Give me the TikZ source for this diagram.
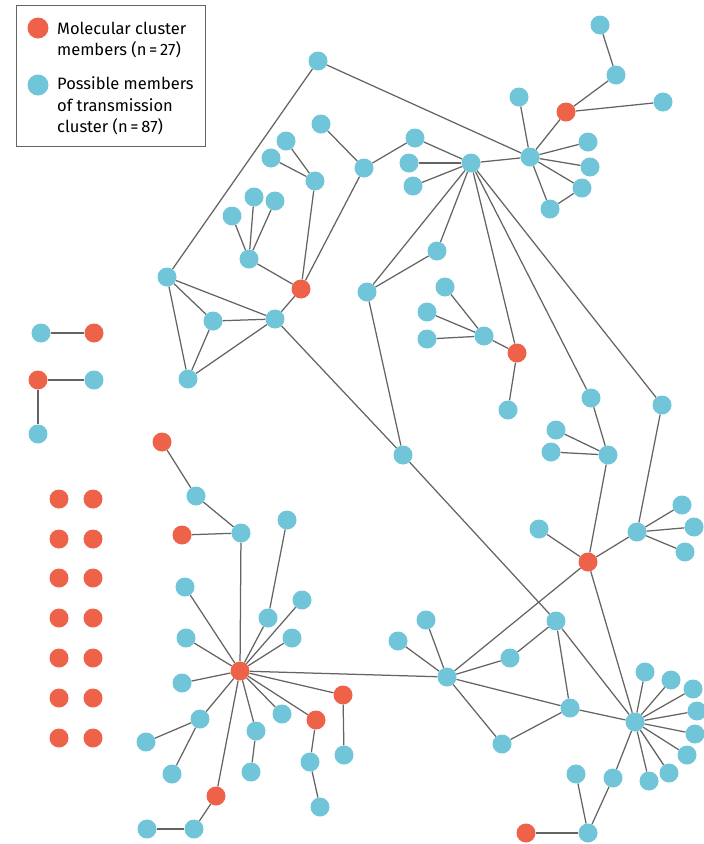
\documentclass[tikz,border=0pt]{standalone}
\usepackage{fontspec}
\setmainfont{Fira Sans}
\usetikzlibrary{backgrounds}

\definecolor{molred}{RGB}{239,98,74}
\definecolor{posblue}{RGB}{112,197,216}
\definecolor{linkgray}{RGB}{100,100,100}

\begin{document}
\begin{tikzpicture}[x=1pt,y=-1pt,
    molnode/.style={circle,fill=molred,minimum size=19pt,inner sep=0pt},
    posnode/.style={circle,fill=posblue,minimum size=19pt,inner sep=0pt},
    link/.style={draw=linkgray,line width=1.25pt},
    keytext/.style={anchor=west,align=left,inner sep=0pt,font=\fontsize{16.5}{21.5}\selectfont}]
        \useasboundingbox (0,0) rectangle (704,844);

        % key
        \draw[linkgray,line width=0.9pt] (16,5) rectangle (205,146);
        \node[molnode,minimum size=21pt] (keymol) at (38,28) {};
        \node[keytext] (keymoltext) at (57,40) {Molecular cluster\\members (n\,=\,27)};
        \node[posnode,minimum size=21pt] (keypos) at (38,85) {};
        \node[keytext] (keypostext) at (57,106) {Possible members\\of transmission\\cluster (n\,=\,87)};

        % upper part
        \node[posnode] (t1) at (318,61) {};
        \node[posnode] (h1) at (471,163) {};
        \node[posnode] (h2) at (530,157) {};
        \node[molnode] (r1) at (566,112) {};
        \node[posnode] (t2) at (616,75) {};
        \node[posnode] (t3) at (600,25) {};
        \node[posnode] (t4) at (663,102) {};
        \node[posnode] (t5) at (519,97) {};
        \node[posnode] (t6) at (588,142) {};
        \node[posnode] (t7) at (590,167) {};
        \node[posnode] (t8) at (582,188) {};
        \node[posnode] (t9) at (550,209) {};
        \node[posnode] (t10) at (415,138) {};
        \node[posnode] (t11) at (409,163) {};
        \node[posnode] (t12) at (413,186) {};
        \node[posnode] (t13) at (364,168) {};
        \node[posnode] (t14) at (321,124) {};
        \node[molnode] (r2) at (301,289) {};
        \node[posnode] (t15) at (315,181) {};
        \node[posnode] (t16) at (286,141) {};
        \node[posnode] (t17) at (271,158) {};
        \node[posnode] (t18) at (249,259) {};
        \node[posnode] (t19) at (232,216) {};
        \node[posnode] (t20) at (254,197) {};
        \node[posnode] (t21) at (275,201) {};
        \node[posnode] (l1) at (167,277) {};
        \node[posnode] (l2) at (213,321) {};
        \node[posnode] (l3) at (275,319) {};
        \node[posnode] (l4) at (188,379) {};

        % middle
        \node[posnode] (m1) at (367,292) {};
        \node[posnode] (m2) at (437,251) {};
        \node[posnode] (m3) at (403,455) {};
        \node[molnode] (r3) at (517,353) {};
        \node[posnode] (m4) at (484,336) {};
        \node[posnode] (m5) at (445,287) {};
        \node[posnode] (m6) at (427,312) {};
        \node[posnode] (m7) at (427,339) {};
        \node[posnode] (m8) at (508,410) {};
        \node[posnode] (m9) at (591,398) {};
        \node[posnode] (m10) at (608,455) {};
        \node[posnode] (m11) at (556,430) {};
        \node[posnode] (m12) at (551,452) {};
        \node[molnode] (r4) at (588,562) {};
        \node[posnode] (m13) at (539,529) {};
        \node[posnode] (m14) at (662,405) {};
        \node[posnode] (m15) at (637,532) {};
        \node[posnode] (m16) at (682,505) {};
        \node[posnode] (m17) at (694,527) {};
        \node[posnode] (m18) at (685,552) {};

        % lower right
        \node[posnode] (h3) at (447,677) {};
        \node[posnode] (b1) at (398,641) {};
        \node[posnode] (b2) at (426,620) {};
        \node[posnode] (b3) at (510,658) {};
        \node[posnode] (b4) at (556,621) {};
        \node[posnode] (b5) at (570,708) {};
        \node[posnode] (b6) at (502,744) {};
        \node[posnode] (h4) at (635,722) {};
        \foreach \n/\x/\y in {1/645/672,2/671/680,3/693/689,4/697/711,
                              5/695/734,6/687/755,7/669/773,8/649/781}
            \node[posnode] (f\n) at (\x,\y) {};
        \node[posnode] (b7) at (613,778) {};
        \node[posnode] (b8) at (588,833) {};
        \node[posnode] (b9) at (576,774) {};
        \node[molnode] (r5) at (526,833) {};

        % lower left
        \node[molnode] (rh) at (240,671) {};
        \node[posnode] (c1) at (241,533) {};
        \node[posnode] (c2) at (196,496) {};
        \node[molnode] (r6) at (162,442) {};
        \node[molnode] (r7) at (182,535) {};
        \node[posnode] (c3) at (287,520) {};
        \node[posnode] (c4) at (268,618) {};
        \node[posnode] (c5) at (302,600) {};
        \node[posnode] (c6) at (292,638) {};
        \node[posnode] (c7) at (185,587) {};
        \node[posnode] (c8) at (186,638) {};
        \node[posnode] (c9) at (182,683) {};
        \node[posnode] (c10) at (200,719) {};
        \node[posnode] (c11) at (146,742) {};
        \node[posnode] (c12) at (172,774) {};
        \node[molnode] (r8) at (216,796) {};
        \node[posnode] (c13) at (194,829) {};
        \node[posnode] (c14) at (147,829) {};
        \node[posnode] (c15) at (256,731) {};
        \node[posnode] (c16) at (251,772) {};
        \node[posnode] (c17) at (282,714) {};
        \node[molnode] (r9) at (316,720) {};
        \node[posnode] (c18) at (310,762) {};
        \node[posnode] (c19) at (320,807) {};
        \node[molnode] (r10) at (343,695) {};
        \node[posnode] (c20) at (344,755) {};

        % small groups and singletons
        \node[posnode] (p1) at (41,333) {};
        \node[molnode] (r11) at (94,333) {};
        \node[molnode] (r12) at (38,380) {};
        \node[posnode] (p2) at (94,380) {};
        \node[posnode] (p3) at (38,434) {};
        \foreach \y [count=\i] in {499,539,578,618,658,698,738} {
            \node[molnode] (sa\i) at (59,\y) {};
            \node[molnode] (sb\i) at (93,\y) {};
        }

        \begin{scope}[on background layer]
        \foreach \a/\b in {t1/h2,t1/l1,h2/h1,h2/r1,h2/t5,h2/t6,h2/t7,h2/t8,h2/t9,t8/t9,
                           r1/t2,r1/t4,t2/t3,h1/t10,h1/t11,h1/t12,t10/t13,
                           h1/m1,h1/m2,h1/r3,h1/m9,h1/m14,m1/m2,m1/m3,
                           r2/l3,r2/t18,r2/t15,r2/t13,t13/t14,t15/t16,t15/t17,
                           t18/t19,t18/t20,t18/t21,
                           l1/l2,l1/l3,l1/l4,l2/l3,l2/l4,l3/l4,l3/m3,m3/b4,
                           r3/m4,r3/m8,m4/m5,m4/m6,m4/m7,
                           m9/m10,m10/m11,m10/m12,m10/r4,
                           r4/m13,r4/m15,r4/h3,r4/h4,
                           m14/m15,m15/m16,m15/m17,m15/m18,
                           h3/b1,h3/b2,h3/b3,h3/b5,h3/b6,h3/rh,
                           b3/b4,b4/b5,b4/h4,b5/h4,b5/b6,
                           h4/b7,b7/b8,b8/b9,b8/r5,
                           rh/c1,rh/c4,c4/c3,rh/c5,rh/c6,rh/c7,rh/c8,rh/c9,
                           rh/c10,c10/c11,c10/c12,rh/r8,r8/c13,c13/c14,
                           rh/c15,c15/c16,rh/c17,rh/r9,r9/c18,c18/c19,rh/r10,r10/c20,
                           c1/c2,c1/r7,c2/r6,
                           p1/r11,r12/p2,r12/p3}
            \draw[link] (\a) -- (\b);
        \foreach \n in {1,...,8}
            \draw[link] (h4) -- (f\n);
        \end{scope}
\end{tikzpicture}
\end{document}
